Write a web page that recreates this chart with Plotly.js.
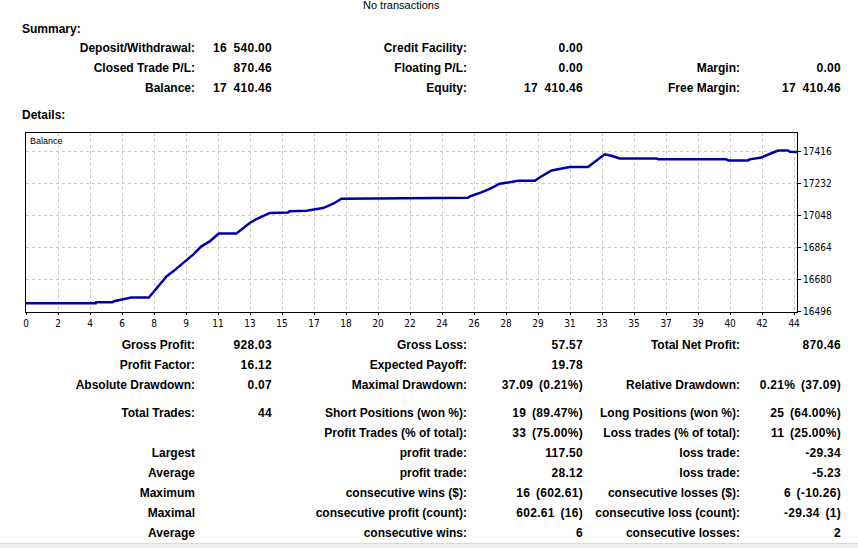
<!DOCTYPE html>
<html>
<head>
<meta charset="utf-8">
<script src="https://cdn.plot.ly/plotly-3.0.1.min.js"></script>
<style>
  html, body { margin:0; padding:0; background:#fff; width:858px; height:548px; overflow:hidden; }
  #chart { position:absolute; left:0; top:0; width:858px; height:548px; }
  .t { position:absolute; white-space:nowrap; font-family:"Liberation Sans", Arial, sans-serif; font-size:12px; font-weight:bold; line-height:14px; color:#000; text-align:right; }
  .l { text-align:left; }
</style>
</head>
<body>
<div id="chart"></div>
<div id="texts"></div>
<div style="position:absolute;left:0;top:543px;width:858px;height:5px;background:#eeeeee;border-top:1px solid #d9d9d9;"></div>
<script>
// ---- chart data ----
const tickPositions = [0,1,2,3,4,5,6,7,8,9,10,11,12,13,14,15,16,17,18,19,20,21,22,23,24];
const tickLabels = ["0","2","4","6","8","9","11","13","15","17","18","20","22","24","26","28","29","31","33","35","37","39","40","42","44"];
const yTicks = [16496, 16680, 16864, 17048, 17232, 17416];
const yTickLabels = ["16496", "16680", "16864", "17048", "17232", "17416"];
const posX = [0, 2.18, 2.19, 2.70, 2.75, 2.98, 3.20, 3.29, 3.84, 4.39, 4.60, 4.91, 5.22, 5.48, 5.74, 6.02, 6.57, 6.99, 7.20, 7.62, 8.19, 8.24, 8.76, 9.28, 9.60, 9.86, 13.14, 13.19, 13.81, 13.87, 14.23, 14.54, 14.80, 15.06, 15.38, 15.90, 16.05, 16.42, 16.68, 16.99, 17.56, 17.72, 17.98, 18.08, 18.29, 18.55, 19.70, 19.75, 21.88, 21.94, 22.56, 22.61, 22.98, 23.24, 23.45, 23.50, 23.81, 23.87, 24.09];
const balance = [16540, 16540, 16546, 16546, 16552, 16561, 16568, 16574, 16574, 16695, 16724, 16772, 16820, 16868, 16896, 16941, 16941, 17002, 17025, 17060, 17063, 17069, 17073, 17088, 17113, 17142, 17143, 17147, 17147, 17155, 17178, 17203, 17228, 17235, 17245, 17245, 17264, 17304, 17314, 17324, 17324, 17347, 17385, 17397, 17389, 17373, 17373, 17368, 17368, 17362, 17362, 17368, 17379, 17397, 17412, 17419, 17419, 17412, 17410.46];

// ---- report text ----
const summaryRows = [
  ["Deposit/Withdrawal:", "16 540.00", "Credit Facility:", "0.00", "", ""],
  ["Closed Trade P/L:", "870.46", "Floating P/L:", "0.00", "Margin:", "0.00"],
  ["Balance:", "17 410.46", "Equity:", "17 410.46", "Free Margin:", "17 410.46"]
];
const summaryY = [48, 68, 88];
const detailRows = [
  ["Gross Profit:", "928.03", "Gross Loss:", "57.57", "Total Net Profit:", "870.46"],
  ["Profit Factor:", "16.12", "Expected Payoff:", "19.78", "", ""],
  ["Absolute Drawdown:", "0.07", "Maximal Drawdown:", "37.09 (0.21%)", "Relative Drawdown:", "0.21% (37.09)"],
  ["Total Trades:", "44", "Short Positions (won %):", "19 (89.47%)", "Long Positions (won %):", "25 (64.00%)"],
  ["", "", "Profit Trades (% of total):", "33 (75.00%)", "Loss trades (% of total):", "11 (25.00%)"],
  ["Largest", "", "profit trade:", "117.50", "loss trade:", "-29.34"],
  ["Average", "", "profit trade:", "28.12", "loss trade:", "-5.23"],
  ["Maximum", "", "consecutive wins ($):", "16 (602.61)", "consecutive losses ($):", "6 (-10.26)"],
  ["Maximal", "", "consecutive profit (count):", "602.61 (16)", "consecutive loss (count):", "-29.34 (1)"],
  ["Average", "", "consecutive wins:", "6", "consecutive losses:", "2"]
];
const detailY = [345, 365, 385, 413, 433, 453, 473, 493, 513, 533];
const colRight = [195, 272, 467, 583, 740, 841];

const box = document.getElementById('texts');
function addText(txt, right, yc, isValue) {
  if (!txt) return;
  const d = document.createElement('div');
  d.className = 't';
  d.textContent = txt;
  d.style.left = '0px';
  d.style.width = right + 'px';
  d.style.top = (yc - 7) + 'px';
  if (isValue) {
    d.style.letterSpacing = '0.3px';
    d.style.wordSpacing = /^\d+ \d{3}/.test(txt) ? '3px' : '2px';
  }
  box.appendChild(d);
}
function addLeft(txt, left, yc, extra) {
  const d = document.createElement('div');
  d.className = 't l';
  d.textContent = txt;
  d.style.left = left + 'px';
  d.style.top = (yc - 7) + 'px';
  if (extra) Object.assign(d.style, extra);
  box.appendChild(d);
}
summaryRows.forEach((r, i) => r.forEach((c, j) => addText(c, colRight[j], summaryY[i], j % 2 === 1)));
detailRows.forEach((r, i) => r.forEach((c, j) => addText(c, colRight[j], detailY[i], j % 2 === 1)));
addLeft("Summary:", 22, 29);
addLeft("Details:", 22, 115);
addLeft("No transactions", 363, 6, {fontWeight:'normal', fontSize:'11px', lineHeight:'12px'});
addLeft("Balance", 30, 141, {fontWeight:'normal', fontSize:'9px'});

const trace = {
  x: posX, y: balance, type: 'scatter', mode: 'lines',
  line: { color: '#0000AA', width: 2.5 },
  hoverinfo: 'skip'
};
const tickFont = { family: '"Liberation Sans Narrow", "DejaVu Sans Condensed", "Liberation Sans", sans-serif', size: 10, color: '#000' };
const layout = {
  width: 858, height: 548,
  margin: { l: 26, r: 61, t: 133, b: 236, pad: 0 },
  paper_bgcolor: 'rgba(0,0,0,0)', plot_bgcolor: '#ffffff',
  showlegend: false,
  xaxis: {
    range: [0, 24.09], tickmode: 'array', tickvals: tickPositions, ticktext: tickLabels,
    showgrid: true, gridcolor: '#c8c8c8', griddash: '3px,3px', gridwidth: 1,
    showline: true, mirror: true, linecolor: '#000', linewidth: 1,
    ticks: 'outside', ticklen: 2, tickcolor: '#000', zeroline: false,
    tickfont: tickFont
  },
  yaxis: {
    range: [16490.3, 17519.5], side: 'right', tickmode: 'array', tickvals: yTicks, ticktext: yTickLabels,
    showgrid: true, gridcolor: '#c8c8c8', griddash: '3px,3px', gridwidth: 1,
    showline: true, mirror: true, linecolor: '#000', linewidth: 1,
    ticks: 'outside', ticklen: 3, tickcolor: '#000', zeroline: false,
    tickfont: tickFont
  }
};
Plotly.newPlot('chart', [trace], layout, { staticPlot: true, displayModeBar: false });
</script>
</body>
</html>
